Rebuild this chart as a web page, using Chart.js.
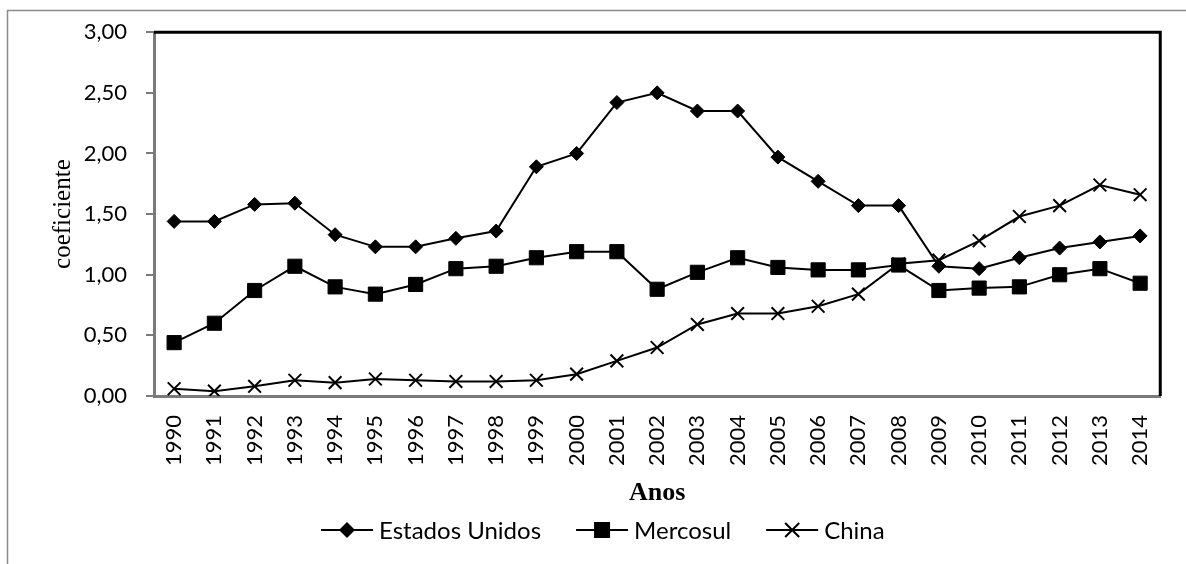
<!DOCTYPE html>
<html>
<head>
<meta charset="utf-8">
<script src="https://cdn.jsdelivr.net/npm/chart.js@4/dist/chart.umd.min.js"></script>
<style>
  html, body { margin: 0; padding: 0; background: #fff; }
  #caixa { width: 1186px; height: 564px; position: relative; }
</style>
</head>
<body>
<div id="caixa"><canvas id="grafico" width="1186" height="564"></canvas></div>
<script>
// dados
const anos = ['1990','1991','1992','1993','1994','1995','1996','1997','1998','1999','2000','2001','2002',
  '2003','2004','2005','2006','2007','2008','2009','2010','2011','2012','2013','2014'];
const estadosUnidos = [1.44,1.44,1.58,1.59,1.33,1.23,1.23,1.30,1.36,1.89,2.00,2.42,2.50,
  2.35,2.35,1.97,1.77,1.57,1.57,1.07,1.05,1.14,1.22,1.27,1.32];
const mercosul = [0.44,0.60,0.87,1.07,0.90,0.84,0.92,1.05,1.07,1.14,1.19,1.19,0.88,
  1.02,1.14,1.06,1.04,1.04,1.08,0.87,0.89,0.90,1.00,1.05,0.93];
const china = [0.06,0.04,0.08,0.13,0.11,0.14,0.13,0.12,0.12,0.13,0.18,0.29,0.40,
  0.59,0.68,0.68,0.74,0.84,1.09,1.12,1.28,1.48,1.57,1.74,1.66];
const nomes = ['Estados Unidos', 'Mercosul', 'China'];
const marcadores = ['diamante', 'quadrado', 'xis'];

// desenha o marcador da legenda
function marcador(ctx, tipo, x, y) {
  ctx.fillStyle = '#000'; ctx.strokeStyle = '#000'; ctx.lineWidth = 2;
  if (tipo == 'diamante') {
    ctx.beginPath(); ctx.moveTo(x, y - 8); ctx.lineTo(x + 8, y); ctx.lineTo(x, y + 8); ctx.lineTo(x - 8, y); ctx.closePath(); ctx.fill();
  } else if (tipo == 'quadrado') {
    ctx.fillRect(x - 8, y - 8, 16, 16);
  } else {
    ctx.beginPath(); ctx.moveTo(x - 7, y - 7); ctx.lineTo(x + 7, y + 7); ctx.moveTo(x + 7, y - 7); ctx.lineTo(x - 7, y + 7); ctx.stroke();
  }
}

// moldura, linhas pretas do quadro e legenda estilo Excel
const moldura = {
  id: 'moldura',
  beforeDraw(chart) {
    const ctx = chart.ctx;
    ctx.save();
    ctx.strokeStyle = '#8a8a8a'; ctx.lineWidth = 1.5;
    ctx.beginPath(); ctx.moveTo(7.5, 564); ctx.lineTo(7.5, 10.5); ctx.lineTo(1186, 10.5); ctx.stroke();
    ctx.restore();
  },
  beforeDatasetsDraw(chart) {
    const a = chart.chartArea, ctx = chart.ctx;
    ctx.save();
    ctx.strokeStyle = '#000'; ctx.lineWidth = 3;
    ctx.beginPath(); ctx.moveTo(a.left, a.top); ctx.lineTo(a.right, a.top); ctx.lineTo(a.right, a.bottom); ctx.stroke();
    ctx.restore();
  },
  afterDraw(chart) {
    const ctx = chart.ctx;
    ctx.save();
    ctx.font = '24px Lato';
    ctx.textBaseline = 'middle';
    let x = 321;
    const y = 530;
    chart.data.datasets.forEach((ds, i) => {
      ctx.strokeStyle = '#000'; ctx.lineWidth = 2;
      ctx.beginPath(); ctx.moveTo(x, y); ctx.lineTo(x + 52, y); ctx.stroke();
      marcador(ctx, marcadores[i], x + 26, y);
      ctx.fillStyle = '#000';
      ctx.fillText(ds.label, x + 58, y + 1);
      x += 58 + ctx.measureText(ds.label).width + 35;
    });
    ctx.restore();
  }
};

function serie(nome, valores, estilo, raio) {
  return {
    label: nome, data: valores,
    borderColor: '#000', backgroundColor: '#000', borderWidth: 2,
    pointStyle: estilo, pointRadius: raio, pointBorderWidth: estilo == 'crossRot' ? 2 : 1,
    pointBackgroundColor: '#000', pointBorderColor: '#000', tension: 0
  };
}

new Chart(document.getElementById('grafico'), {
  type: 'line',
  data: {
    labels: anos,
    datasets: [
      serie(nomes[0], estadosUnidos, 'rectRot', 7),
      serie(nomes[1], mercosul, 'rect', 10),
      serie(nomes[2], china, 'crossRot', 9)
    ]
  },
  options: {
    responsive: false,
    animation: false,
    devicePixelRatio: 1,
    layout: { padding: { left: 0, right: 23, top: 26, bottom: 0 } },
    plugins: {
      tooltip: { enabled: false },
      legend: { display: false }
    },
    scales: {
      x: {
        offset: true,
        afterFit: (s) => { s.height = 168; },
        grid: { display: false, drawTicks: false },
        border: { display: true, color: '#7a7a7a', width: 3 },
        ticks: {
          autoSkip: false, minRotation: 90, maxRotation: 90, padding: 19,
          color: '#000', font: { family: 'Lato', size: 22 }
        },
        title: {
          display: true, text: 'Anos', color: '#000',
          font: { family: 'Liberation Serif', size: 26, weight: 'bold' },
          padding: { top: 0, bottom: 55 }
        }
      },
      y: {
        min: 0, max: 3,
        afterFit: (s) => { s.width = 154; },
        grid: { drawOnChartArea: false, drawTicks: true, tickLength: 8, color: '#7a7a7a', lineWidth: 2 },
        border: { display: true, color: '#7a7a7a', width: 3 },
        ticks: {
          stepSize: 0.5, padding: 19, color: '#000', font: { family: 'Lato', size: 22 },
          callback: (v) => v.toFixed(2).replace('.', ',')
        },
        title: {
          display: true, text: 'coeficiente', color: '#000',
          font: { family: 'Liberation Serif', size: 25 },
          padding: { top: 48, bottom: 0 }
        }
      }
    }
  },
  plugins: [moldura]
});
</script>
</body>
</html>
